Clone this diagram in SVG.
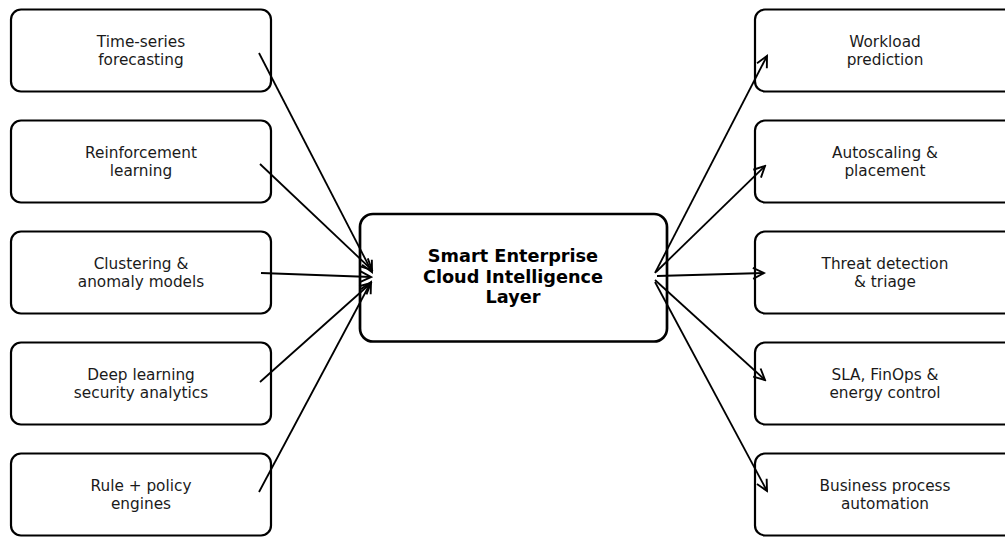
<svg xmlns="http://www.w3.org/2000/svg" width="1005" height="537" viewBox="0 0 1005 537">
  <style>
    .box { fill: #ffffff; stroke: #000000; stroke-width: 2.2; }
    .core { fill: #ffffff; stroke: #000000; stroke-width: 2.7; }
    .lbl { font-family: "DejaVu Sans", "Liberation Sans", sans-serif; font-size: 15.3px; fill: #1a1a1a; text-anchor: middle; }
    .title { font-family: "DejaVu Sans", "Liberation Sans", sans-serif; font-size: 17.7px; font-weight: bold; fill: #000000; text-anchor: middle; }
    .link { stroke: #000000; stroke-width: 1.8; fill: none; marker-end: url(#head); }
  </style>
  <defs>
    <marker id="head" markerUnits="userSpaceOnUse" markerWidth="14" markerHeight="14" refX="12" refY="7" orient="auto">
      <path d="M1,1.5 L12,7 L1,12.5" fill="none" stroke="#000000" stroke-width="1.9" stroke-linejoin="miter"/>
    </marker>
  </defs>
  <rect width="1005" height="537" fill="#ffffff"/>

  <!-- input techniques -->
  <g id="n-timeseries">
    <rect class="box" x="11" y="9.5" width="260" height="82" rx="10"/>
    <text class="lbl" x="141" y="46.5">Time-series</text>
    <text class="lbl" x="141" y="64.5">forecasting</text>
  </g>
  <g id="n-rl">
    <rect class="box" x="11" y="120.5" width="260" height="82" rx="10"/>
    <text class="lbl" x="141" y="157.5">Reinforcement</text>
    <text class="lbl" x="141" y="175.5">learning</text>
  </g>
  <g id="n-clustering">
    <rect class="box" x="11" y="231.5" width="260" height="82" rx="10"/>
    <text class="lbl" x="141" y="268.5">Clustering &amp;</text>
    <text class="lbl" x="141" y="286.5">anomaly models</text>
  </g>
  <g id="n-deep">
    <rect class="box" x="11" y="342.5" width="260" height="82" rx="10"/>
    <text class="lbl" x="141" y="379.5">Deep learning</text>
    <text class="lbl" x="141" y="397.5">security analytics</text>
  </g>
  <g id="n-rules">
    <rect class="box" x="11" y="453.5" width="260" height="82" rx="10"/>
    <text class="lbl" x="141" y="490.5">Rule + policy</text>
    <text class="lbl" x="141" y="508.5">engines</text>
  </g>

  <!-- central layer -->
  <g id="n-core">
    <rect class="core" x="360" y="214" width="307" height="127.5" rx="13"/>
    <text class="title" x="513" y="262">Smart Enterprise</text>
    <text class="title" x="513" y="282.5">Cloud Intelligence</text>
    <text class="title" x="513" y="303">Layer</text>
  </g>

  <!-- outcomes -->
  <g id="n-workload">
    <rect class="box" x="755" y="9.5" width="260" height="82" rx="10"/>
    <text class="lbl" x="885" y="46.5">Workload</text>
    <text class="lbl" x="885" y="64.5">prediction</text>
  </g>
  <g id="n-autoscaling">
    <rect class="box" x="755" y="120.5" width="260" height="82" rx="10"/>
    <text class="lbl" x="885" y="157.5">Autoscaling &amp;</text>
    <text class="lbl" x="885" y="175.5">placement</text>
  </g>
  <g id="n-threat">
    <rect class="box" x="755" y="231.5" width="260" height="82" rx="10"/>
    <text class="lbl" x="885" y="268.5">Threat detection</text>
    <text class="lbl" x="885" y="286.5">&amp; triage</text>
  </g>
  <g id="n-sla">
    <rect class="box" x="755" y="342.5" width="260" height="82" rx="10"/>
    <text class="lbl" x="885" y="379.5">SLA, FinOps &amp;</text>
    <text class="lbl" x="885" y="397.5">energy control</text>
  </g>
  <g id="n-bpa">
    <rect class="box" x="755" y="453.5" width="260" height="82" rx="10"/>
    <text class="lbl" x="885" y="490.5">Business process</text>
    <text class="lbl" x="885" y="508.5">automation</text>
  </g>

  <!-- connectors -->
  <g id="connectors">
    <line class="link" x1="259" y1="53" x2="372" y2="272"/>
    <line class="link" x1="260" y1="164" x2="372" y2="270"/>
    <line class="link" x1="261" y1="273" x2="371" y2="277"/>
    <line class="link" x1="260" y1="382" x2="371" y2="283"/>
    <line class="link" x1="259" y1="492" x2="371" y2="282"/>
    <line class="link" x1="655" y1="273" x2="767" y2="56"/>
    <line class="link" x1="656" y1="272" x2="765" y2="166"/>
    <line class="link" x1="657" y1="276" x2="764" y2="273"/>
    <line class="link" x1="655" y1="280" x2="765" y2="380"/>
    <line class="link" x1="655" y1="282" x2="767" y2="491"/>
  </g>
</svg>
